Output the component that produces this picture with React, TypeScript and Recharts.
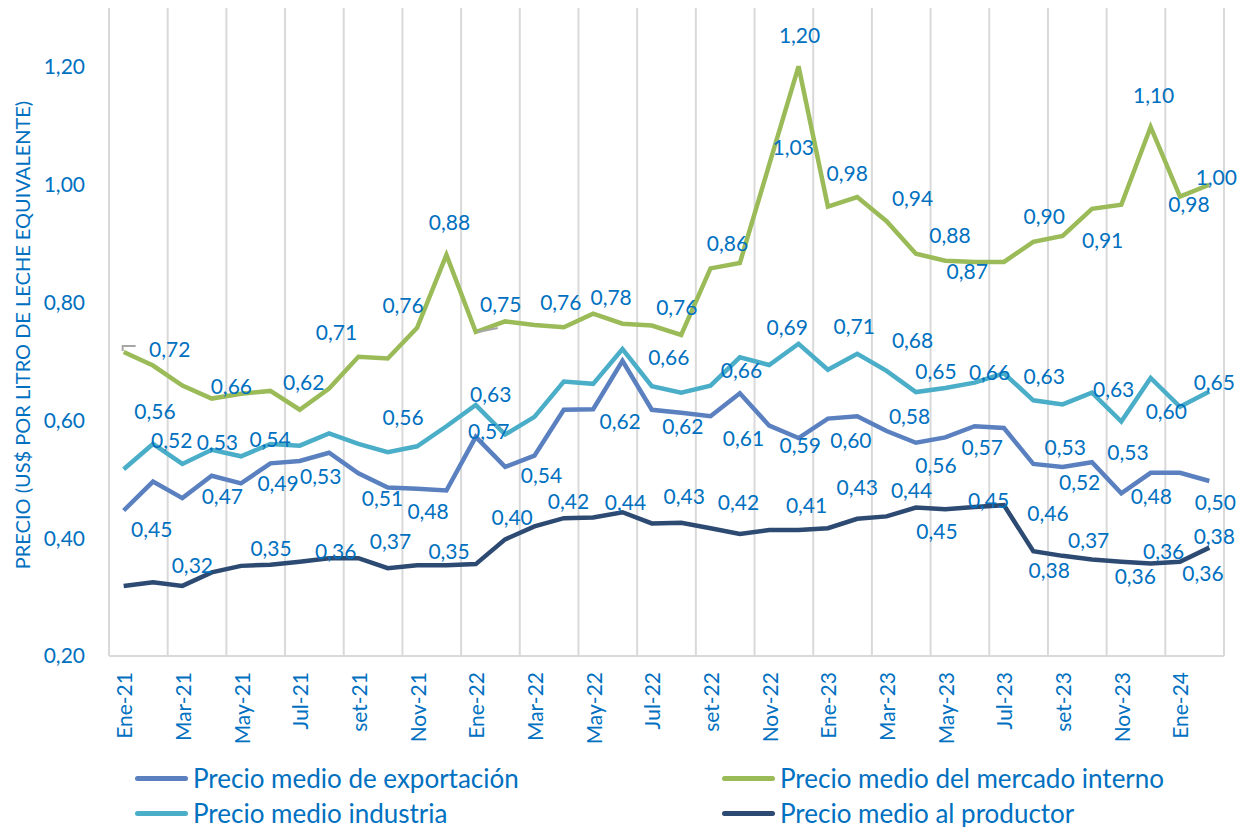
import React from "react";
import {
  LineChart,
  Line,
  XAxis,
  YAxis,
  CartesianGrid,
  Legend,
  LabelList,
} from "recharts";

const months = [
  "Ene-21", "Feb-21", "Mar-21", "Abr-21", "May-21", "Jun-21", "Jul-21", "Ago-21", "set-21", "Oct-21", "Nov-21", "Dic-21",
  "Ene-22", "Feb-22", "Mar-22", "Abr-22", "May-22", "Jun-22", "Jul-22", "Ago-22", "set-22", "Oct-22", "Nov-22", "Dic-22",
  "Ene-23", "Feb-23", "Mar-23", "Abr-23", "May-23", "Jun-23", "Jul-23", "Ago-23", "set-23", "Oct-23", "Nov-23", "Dic-23",
  "Ene-24", "Feb-24",
];

const exportacion = [
  0.447, 0.496, 0.468, 0.506, 0.493, 0.527, 0.531, 0.545, 0.51, 0.486, 0.484, 0.481,
  0.572, 0.521, 0.54, 0.618, 0.619, 0.701, 0.618, 0.613, 0.607, 0.646, 0.591, 0.57,
  0.603, 0.607, 0.582, 0.562, 0.571, 0.59, 0.587, 0.526, 0.521, 0.529, 0.476, 0.511,
  0.511, 0.497,
];

const interno = [
  0.716, 0.693, 0.659, 0.637, 0.645, 0.65, 0.618, 0.654, 0.708, 0.705, 0.757, 0.881,
  0.75, 0.768, 0.762, 0.758, 0.781, 0.764, 0.761, 0.745, 0.858, 0.867, 1.034, 1.201,
  0.963, 0.979, 0.938, 0.883, 0.871, 0.869, 0.869, 0.903, 0.913, 0.959, 0.966, 1.098,
  0.98, 1.0,
];

const industria = [
  0.517, 0.56, 0.526, 0.55, 0.539, 0.56, 0.557, 0.578, 0.56, 0.546, 0.556, 0.59,
  0.626, 0.576, 0.606, 0.666, 0.662, 0.721, 0.658, 0.647, 0.659, 0.707, 0.694, 0.73,
  0.686, 0.713, 0.684, 0.648, 0.655, 0.664, 0.68, 0.634, 0.627, 0.647, 0.598, 0.672,
  0.623, 0.649,
];

const productor = [
  0.319, 0.325, 0.319, 0.342, 0.353, 0.355, 0.36, 0.366, 0.366, 0.349, 0.354, 0.354,
  0.356, 0.398, 0.42, 0.434, 0.435, 0.444, 0.425, 0.426, 0.417, 0.407, 0.414, 0.414,
  0.417, 0.433, 0.437, 0.452, 0.449, 0.453, 0.456, 0.378, 0.37, 0.364, 0.36, 0.357,
  0.36, 0.384,
];

const yTicks = [0.2, 0.4, 0.6, 0.8, 1.0, 1.2];

const data = months.map((month, i) => ({
  month,
  exportacion: exportacion[i],
  interno: interno[i],
  industria: industria[i],
  productor: productor[i],
}));

// which points carry a data label, and where the label sits relative to the point
const labelsInterno: Record<number, number[]> = {
  0: [46, -4], 2: [49, 0], 6: [4, -28], 8: [-22, -25], 10: [-14, -23], 11: [3, -33],
  12: [25, -29], 15: [-3, -26], 16: [18, -17], 18: [25, -19], 20: [17, -26], 22: [24, -18],
  23: [1, -32], 25: [-10, -25], 26: [26, -24], 27: [34, -19], 28: [22, 10], 31: [11, -26],
  32: [40, 4], 35: [3, -32], 36: [9, 7], 37: [7, -8],
};
const labelsIndustria: Record<number, number[]> = {
  0: [48, -30], 1: [2, -33], 2: [35, -22], 4: [29, -18], 10: [-14, -30], 12: [15, -12],
  18: [17, -30], 20: [31, -16], 22: [18, -38], 25: [-3, -28], 26: [26, -31], 27: [20, -22],
  29: [15, -11], 31: [11, -25], 32: [51, -16], 34: [45, -11], 37: [5, -10],
};
const labelsExportacion: Record<number, number[]> = {
  0: [28, 18], 2: [40, -3], 4: [37, -1], 6: [21, 14], 8: [24, 24], 10: [11, 22],
  12: [13, -6], 14: [7, 19], 16: [27, 11], 18: [31, 16], 20: [33, 21], 22: [31, 19],
  24: [23, 21], 26: [23, -15], 27: [20, 22], 28: [37, 9], 31: [32, -17], 32: [17, 15],
  33: [36, -11], 34: [30, 2], 37: [6, 20],
};
const labelsProductor: Record<number, number[]> = {
  2: [10, -21], 4: [30, -18], 6: [36, -11], 8: [32, -18], 10: [32, -15], 13: [7, -23],
  14: [34, -26], 17: [3, -11], 19: [3, -27], 20: [28, -27], 23: [8, -25], 25: [0, -32],
  26: [25, -27], 27: [21, 23], 29: [14, -7], 30: [44, 7], 31: [16, 18], 32: [26, -16],
  34: [14, 14], 35: [13, -13], 36: [23, 11], 37: [5, -12],
};
// small grey leader lines Excel draws for moved labels
const leadersInterno: Record<number, (x: number, y: number) => string> = {
  0: (x, y) => `M${x - 1} ${y - 1} V${y - 6} H${x + 12}`,
  12: (x, y) => `M${x + 2} ${y} L${x + 22} ${y - 4}`,
};

const TEXT = "#0070C0";
const GRID = "#D9D9D9";
const FONT = "Lato, 'Open Sans', sans-serif";

const fmt = (v: number) => Number(v).toFixed(2).replace(".", ",");

const makeLabel =
  (offsets: Record<number, number[]>, leaders?: Record<number, (x: number, y: number) => string>) =>
  (props: any) => {
    const { index, value } = props;
    const off = offsets[index];
    if (!off) return null;
    const x = props.x ?? props.viewBox?.x;
    const y = props.y ?? props.viewBox?.y;
    const lead = leaders && leaders[index];
    return (
      <g>
        {lead && <path d={lead(x, y)} stroke="#A6A6A6" strokeWidth={2} fill="none" />}
        <text
          x={x + off[0]}
          y={y + off[1]}
          textAnchor="middle"
          dominantBaseline="central"
          fill={TEXT}
          fontSize={21}
          fontFamily={FONT}
        >
          {fmt(value)}
        </text>
      </g>
    );
  };

const series = [
  { key: "exportacion", name: "Precio medio de exportación", color: "#5A80C0", labels: labelsExportacion },
  { key: "interno", name: "Precio medio del mercado interno", color: "#9BBB59", labels: labelsInterno, leaders: leadersInterno },
  { key: "industria", name: "Precio medio industria", color: "#4BAEC8", labels: labelsIndustria },
  { key: "productor", name: "Precio medio al productor", color: "#2D4A72", labels: labelsProductor },
];

const XTick = ({ x, y, payload }: any) => (
  <text
    x={x}
    y={y}
    transform={`rotate(-90 ${x} ${y})`}
    textAnchor="end"
    dominantBaseline="central"
    fill={TEXT}
    fontSize={21}
    fontFamily={FONT}
  >
    {payload.value}
  </text>
);

const legendSlots = [
  { key: "exportacion", left: 127, cy: 21 },
  { key: "industria", left: 127, cy: 56 },
  { key: "interno", left: 714, cy: 21 },
  { key: "productor", left: 714, cy: 56 },
];

const LegendBox = () => (
  <div style={{ position: "relative", width: 1237, height: 70, fontFamily: FONT, color: TEXT }}>
    {legendSlots.map((slot) => {
      const s = series.find((d) => d.key === slot.key)!;
      return (
        <div
          key={slot.key}
          style={{
            position: "absolute",
            left: slot.left,
            top: slot.cy - 18,
            height: 36,
            display: "flex",
            alignItems: "center",
          }}
        >
          <span style={{ width: 53, height: 5, background: s.color, borderRadius: 3, marginRight: 5 }} />
          <span style={{ fontSize: 26, lineHeight: "36px", whiteSpace: "nowrap" }}>{s.name}</span>
        </div>
      );
    })}
  </div>
);

export default function App() {
  return (
    <div style={{ width: 1237, height: 819, fontFamily: FONT }}>
      <LineChart width={1237} height={819} data={data} margin={{ top: 0, right: 21, left: 0, bottom: 0 }}>
        <CartesianGrid
          horizontal={false}
          stroke={GRID}
          strokeWidth={2}
          verticalCoordinatesGenerator={({ offset }: any) => {
            const step = (offset.width / months.length) * 2;
            return Array.from({ length: months.length / 2 + 1 }, (_, k) => offset.left + k * step);
          }}
        />
        <XAxis
          dataKey="month"
          scale="band"
          interval={1}
          height={101}
          tickLine={false}
          tickSize={6}
          tickMargin={10}
          axisLine={{ stroke: GRID, strokeWidth: 2 }}
          tick={<XTick />}
        />
        <YAxis
          type="number"
          domain={[0.2, 1.3]}
          ticks={yTicks}
          width={101}
          axisLine={false}
          tickLine={false}
          tickSize={0}
          tickMargin={24}
          tickFormatter={fmt}
          tick={{ fill: TEXT, fontSize: 21, fontFamily: FONT }}
          label={{
            content: () => (
              <text
                x={14}
                y={327}
                transform="rotate(-90 14 327)"
                textAnchor="middle"
                dominantBaseline="central"
                fill={TEXT}
                fontSize={20}
                fontFamily={FONT}
              >
                PRECIO (US$ POR LITRO DE LECHE EQUIVALENTE)
              </text>
            ),
          }}
        />
        <Legend verticalAlign="bottom" height={70} wrapperStyle={{ left: 0, width: 1237 }} content={() => <LegendBox />} />
        {series.map((s) => (
          <Line
            key={s.key}
            type="linear"
            dataKey={s.key}
            name={s.name}
            stroke={s.color}
            strokeWidth={4.5}
            dot={false}
            activeDot={false}
            isAnimationActive={false}
          >
            <LabelList dataKey={s.key} content={makeLabel(s.labels, (s as any).leaders)} />
          </Line>
        ))}
      </LineChart>
    </div>
  );
}
